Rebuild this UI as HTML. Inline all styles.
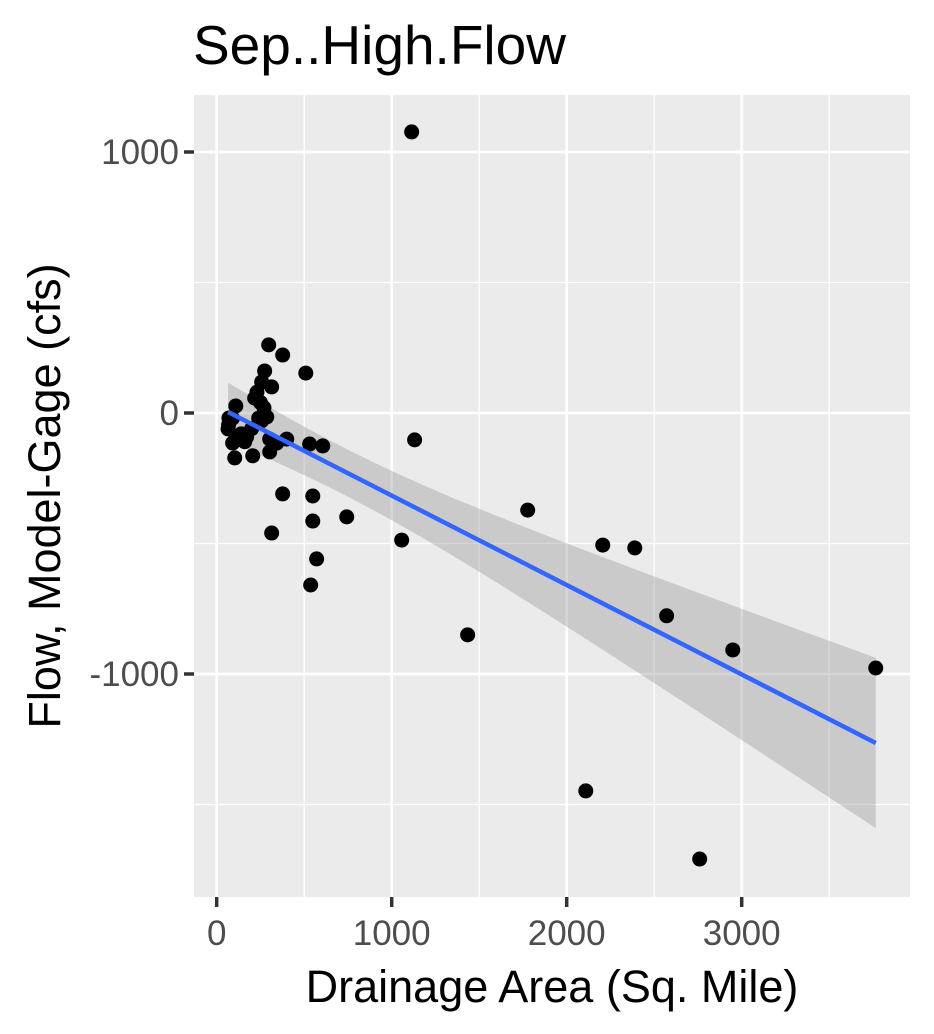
<!DOCTYPE html>
<html><head><meta charset="utf-8"><style>
html,body{margin:0;padding:0;background:#fff;}
svg{display:block;font-family:"Liberation Sans",Arial,sans-serif;}
</style></head><body>
<svg id="chart" width="934" height="1034" viewBox="0 0 934 1034">
<text x="193" y="64" font-size="55" fill="#000">Sep..High.Flow</text>
<rect x="194" y="95" width="716" height="802" fill="#ebebeb"/>
<g id="grid"></g>
<g id="band"></g>
<g id="points"></g>
<g id="fit"></g>
<g id="axes"></g>
<text x="552" y="1002" font-size="45" text-anchor="middle" fill="#000">Drainage Area (Sq. Mile)</text>
<text transform="translate(60,496) rotate(-90)" font-size="45" text-anchor="middle" fill="#000">Flow, Model-Gage (cfs)</text>
</svg>
<script>
const areas = [1114,297,377,509,274,314,257,400,217,257,286,109,70,65,91,103,206,303,303,343,171,531,606,377,549,743,549,314,571,537,1057,1131,1777,1434,2206,2389,2571,2949,3766,2109,2760,68,120,160,200,140,90,230,250,270,240];
const diffs = [1077,261,222,153,161,100,119,-100,57,-30,-15,27,-19,-61,-115,-172,-164,-149,-100,-115,-92,-119,-126,-310,-318,-398,-414,-460,-559,-659,-487,-103,-372,-850,-506,-517,-777,-908,-977,-1448,-1709,-45,-90,-110,-60,-80,-20,80,40,20,-20];
const xTicks = [0,1000,2000,3000];
const yTicks = [1000,0,-1000];
const xMinor = [500,1500,2500,3500];
const yMinor = [500,-500,-1500];

const X0=216.7, XS=175/1000, Y0=413, YS=261/1000;
const sx = v => X0 + v*XS;
const sy = v => Y0 - v*YS;
const L=194,R=910,T=95,B=897;
const NS='http://www.w3.org/2000/svg';
function mk(tag, attrs, parent){const e=document.createElementNS(NS,tag);for(const k in attrs)e.setAttribute(k,attrs[k]);parent.appendChild(e);return e;}
const grid=document.getElementById('grid'), axes=document.getElementById('axes');
xMinor.forEach(v=>{const e=mk('line',{x1:sx(v),x2:sx(v),y1:T,y2:B,stroke:'#fff','stroke-width':1.3},grid);

});
yMinor.forEach(v=>{const e=mk('line',{x1:L,x2:R,y1:sy(v),y2:sy(v),stroke:'#fff','stroke-width':1.3},grid);

});
xTicks.forEach(v=>{const e=mk('line',{x1:sx(v),x2:sx(v),y1:T,y2:B,stroke:'#fff','stroke-width':2.7},grid);


const t=mk('line',{x1:sx(v),x2:sx(v),y1:B,y2:B+10,stroke:'#333','stroke-width':3.5},axes);


const l=mk('text',{x:sx(v),y:B+48,'font-size':35,'text-anchor':'middle',fill:'#4d4d4d'},axes);l.textContent=v;

});
yTicks.forEach(v=>{const e=mk('line',{x1:L,x2:R,y1:sy(v),y2:sy(v),stroke:'#fff','stroke-width':2.7},grid);


const t=mk('line',{x1:L-10,x2:L,y1:sy(v),y2:sy(v),stroke:'#333','stroke-width':3.5},axes);


const l=mk('text',{x:L-15,y:sy(v)+12,'font-size':35,'text-anchor':'end',fill:'#4d4d4d'},axes);l.textContent=v;

});

const n=areas.length;
const mx=areas.reduce((a,b)=>a+b,0)/n, my=diffs.reduce((a,b)=>a+b,0)/n;
let sxx=0,sxy=0;for(let i=0;i<n;i++){sxx+=(areas[i]-mx)**2;sxy+=(areas[i]-mx)*(diffs[i]-my);}
const b1=sxy/sxx, b0=my-b1*mx;
let sse=0;for(let i=0;i<n;i++)sse+=(diffs[i]-b0-b1*areas[i])**2;
const s=Math.sqrt(sse/(n-2)), tq=2.01;
const xmin=Math.min(...areas), xmax=Math.max(...areas);
const up=[],lo=[];
for(let k=0;k<=80;k++){const x=xmin+(xmax-xmin)*k/80;const yh=b0+b1*x;const se=s*Math.sqrt(1/n+(x-mx)**2/sxx);
up.push(sx(x)+','+sy(yh+tq*se));lo.unshift(sx(x)+','+sy(yh-tq*se));}
const band=mk('polygon',{points:up.concat(lo).join(' '),fill:'#999','fill-opacity':0.4},document.getElementById('band'));


const pts=document.getElementById('points');
for(let i=0;i<n;i++){const c=mk('circle',{cx:sx(areas[i]),cy:sy(diffs[i]),r:7.5,fill:'#000'},pts);

}
const fl=mk('line',{x1:sx(xmin),y1:sy(b0+b1*xmin),x2:sx(xmax),y2:sy(b0+b1*xmax),stroke:'#3366FF','stroke-width':4.5},document.getElementById('fit'));


</script>
</body></html>
